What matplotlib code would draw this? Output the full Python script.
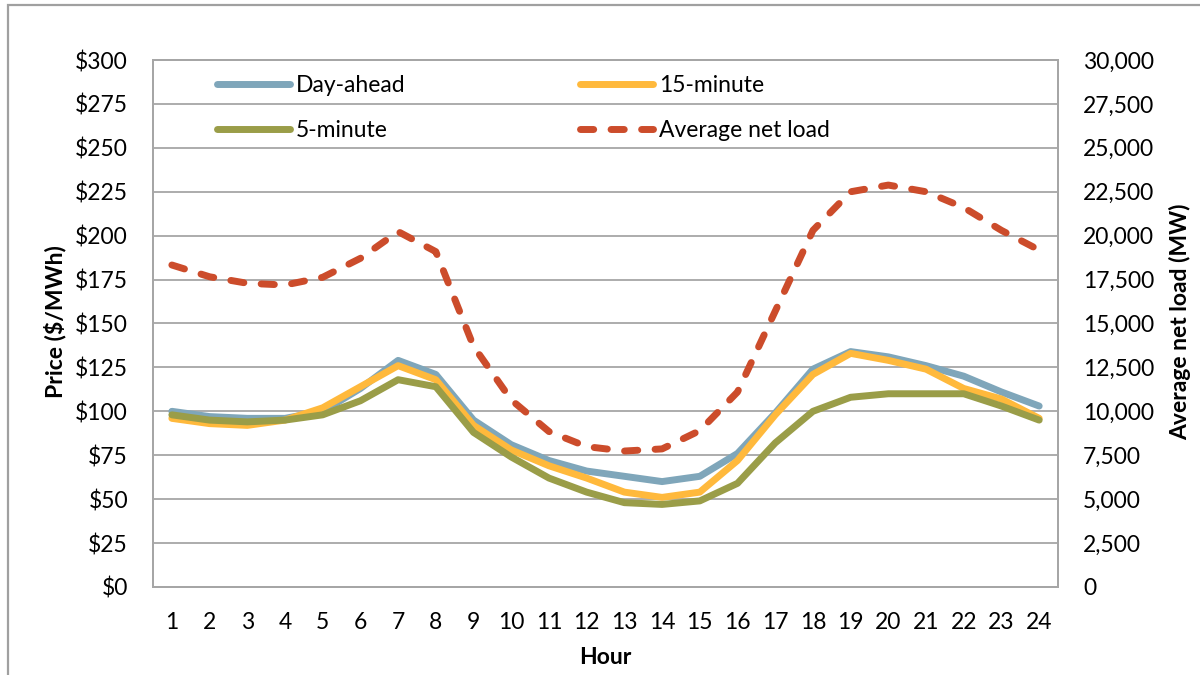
import matplotlib
matplotlib.use('Agg')
import matplotlib.pyplot as plt
from matplotlib.patches import Rectangle
from matplotlib.ticker import FuncFormatter, MultipleLocator

# hourly averages
hours = list(range(1, 25))
day_ahead = [100, 97, 96, 96, 100, 113, 129, 121, 95, 81, 72, 66, 63, 60, 63, 76, 99, 124, 134, 131, 126, 120, 111, 103]
fifteen_min = [96, 93, 92, 95, 102, 114, 126, 118, 92, 78, 69, 62, 54, 51, 54, 72, 98, 121, 133, 129, 124, 113, 107, 96]
five_min = [98, 95, 94, 95, 98, 106, 118, 114, 88, 74, 62, 54, 48, 47, 49, 59, 82, 100, 108, 110, 110, 110, 103, 95]
net_load = [18330, 17660, 17290, 17190, 17630, 18710, 20230, 19090, 13700, 10650, 8850, 7990, 7740, 7860, 8900, 11100, 15700, 20300, 22500, 22880, 22500, 21600, 20300, 19180]

plt.rcParams['font.family'] = ['Lato', 'DejaVu Sans']
grid_col = '#a6a6a6'
fs = 16.5

fig = plt.figure(figsize=(12, 6.75), dpi=100)
ax = fig.add_axes([0.1275, 0.1304, 0.7542, 0.7807])
ax2 = ax.twinx()

# outer frame (only top and left edges visible)
fig.add_artist(Rectangle((8 / 1200, -0.1), 1.2, 1.1 - 5 / 675, transform=fig.transFigure,
                         fill=False, edgecolor='#a0a0a0', linewidth=1.6))

ax.plot(hours, day_ahead, color='#7fa6ba', lw=5, solid_capstyle='round', label='Day-ahead')
ax.plot(hours, fifteen_min, color='#ffb93c', lw=5, solid_capstyle='round', label='15-minute')
ax.plot(hours, five_min, color='#9a9d48', lw=5, solid_capstyle='round', label='5-minute')
ax2.plot(hours, net_load, color='#cc4c2b', lw=5, dashes=(1.9, 2.5), dash_capstyle='round',
         label='Average net load')

ax.set_xlim(0.5, 24.5)
ax.set_ylim(0, 300)
ax2.set_ylim(0, 30000)
ax.set_xticks(hours)
ax.yaxis.set_major_locator(MultipleLocator(25))
ax2.yaxis.set_major_locator(MultipleLocator(2500))
ax.yaxis.set_major_formatter(FuncFormatter(lambda v, p: '${:.0f}'.format(v)))
ax2.yaxis.set_major_formatter(FuncFormatter(lambda v, p: '{:,.0f}'.format(v)))

ax.grid(axis='y', color=grid_col, lw=1.3)
ax.set_axisbelow(True)
for a in (ax, ax2):
    for s in a.spines.values():
        s.set_color(grid_col)
        s.set_linewidth(1.3)
    a.tick_params(length=0, labelsize=fs, pad=18, colors='black')

fig.text(55 / 1200, 1 - 322 / 675, 'Price ($/MWh)', rotation=90, ha='center', va='center',
         fontsize=fs, fontweight='bold')
fig.text(1180 / 1200, 1 - 322 / 675, 'Average net load (MW)', rotation=90, ha='center', va='center',
         fontsize=fs, fontweight='bold')
fig.text(605 / 1200, 1 - 657 / 675, 'Hour', ha='center', va='center', fontsize=fs, fontweight='bold')

h1, l1 = ax.get_legend_handles_labels()
h2, l2 = ax2.get_legend_handles_labels()
handles = [h1[0], h1[2], h1[1], h2[0]]
labels = [l1[0], l1[2], l1[1], l2[0]]
ax2.legend(handles, labels, ncol=2, loc='upper left', bbox_to_anchor=(0.0707, 0.971),
           frameon=False, fontsize=fs, handlelength=3.2, handletextpad=0.25,
           columnspacing=7.6, labelspacing=1.03, borderpad=0, borderaxespad=0)

fig.savefig('out.png', dpi=100)
